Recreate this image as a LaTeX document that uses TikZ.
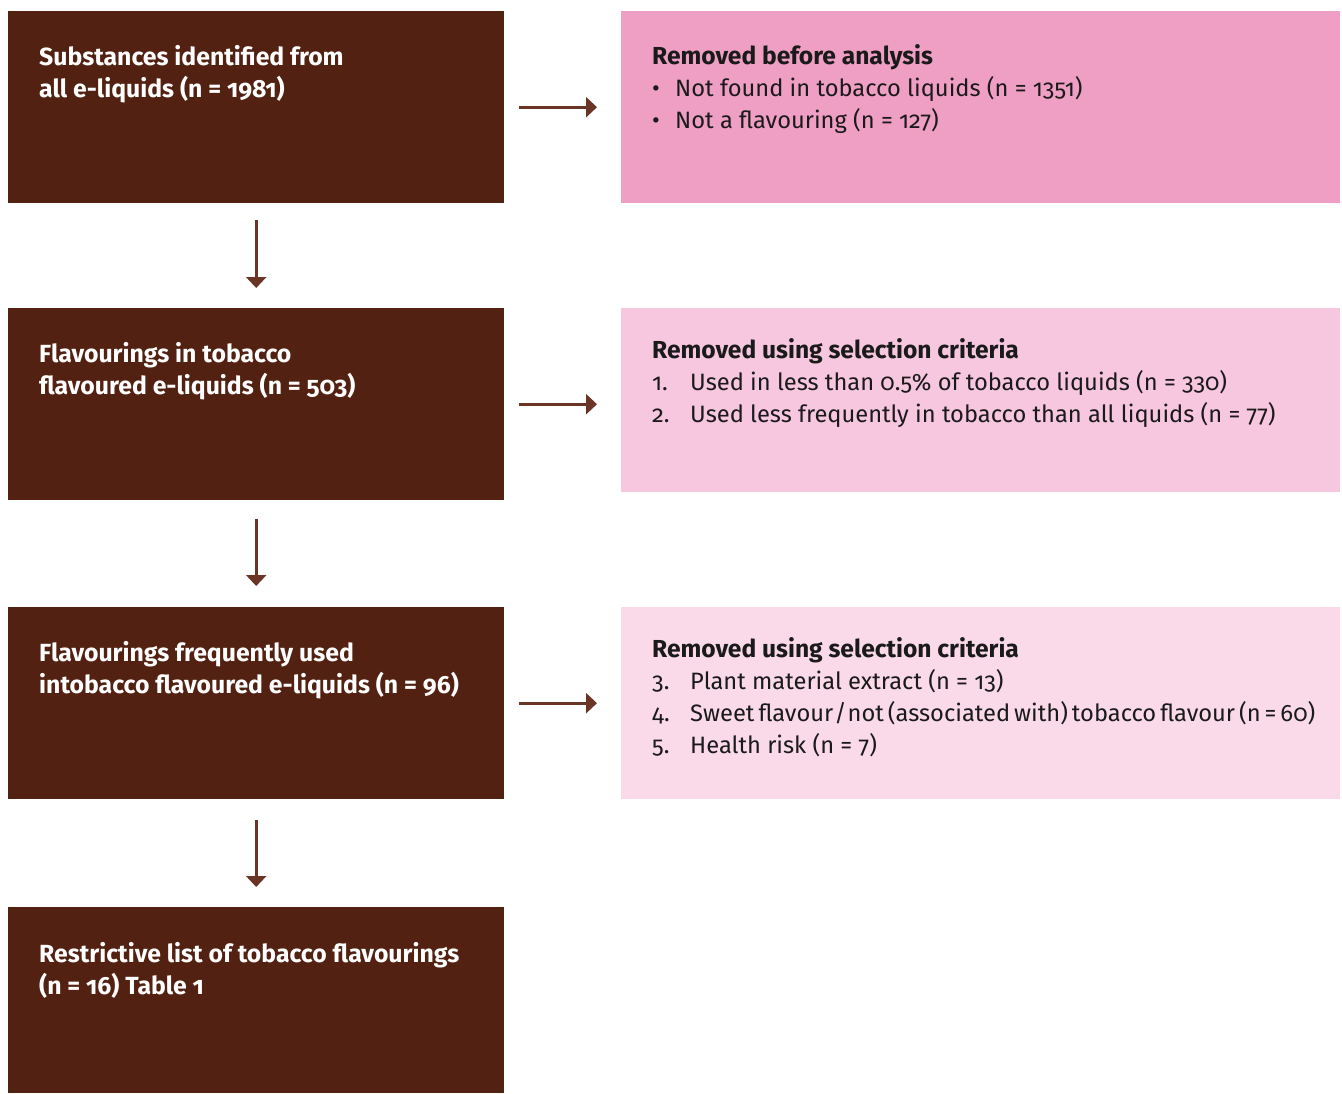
\documentclass[tikz,border=0pt]{standalone}
\usepackage{fontspec}
\setmainfont[Numbers=OldStyle]{Fira Sans}
\usetikzlibrary{arrows.meta}
\definecolor{brownbox}{HTML}{522111}
\definecolor{arrowcol}{HTML}{6B3526}
\definecolor{pinkA}{HTML}{F09FC4}
\definecolor{pinkB}{HTML}{F7C6DF}
\definecolor{pinkC}{HTML}{FADAE9}
\definecolor{textdark}{HTML}{1A1A1A}
\tikzset{
  bbox/.style={fill=brownbox, draw=none, inner sep=0pt, anchor=north west, minimum width=496pt, minimum height=192pt},
  pbox/.style={draw=none, inner sep=0pt, anchor=north west, minimum width=719pt},
  btext/.style={anchor=base west, inner sep=0pt, text=white, font=\fontsize{24.8}{32}\selectfont\bfseries},
  ptext/.style={anchor=base west, inner sep=0pt, text=textdark, font=\fontsize{23.7}{32}\selectfont},
  flow/.style={draw=arrowcol, line width=2.6pt, -{Triangle[length=11pt,width=20pt]}},
}
\newcommand{\bul}{\makebox[23pt][l]{\textbullet}}
\newcommand{\num}[1]{\makebox[38pt][l]{#1}}
\newcommand{\ptitle}[1]{{\fontsize{24.6}{32}\selectfont\bfseries #1}}
\begin{document}
\begin{tikzpicture}[x=1pt,y=-1pt]
\useasboundingbox (0,0) rectangle (1342,1093);
% brown boxes
\node[bbox] (b1) at (8,11) {};
\node[bbox] (b2) at (8,308) {};
\node[bbox] (b3) at (8,607) {};
\node[bbox, minimum height=186pt] (b4) at (8,907) {};
% pink boxes
\node[pbox, fill=pinkA, minimum height=192pt] (p1) at (621,11) {};
\node[pbox, fill=pinkB, minimum height=184pt] (p2) at (621,308) {};
\node[pbox, fill=pinkC, minimum height=192pt] (p3) at (621,607) {};
% brown texts
\node[btext] (t1) at (39,65) {\begin{tabular}[t]{@{}l@{}}Substances identified from\\ all e-liquids (n = 1981)\end{tabular}};
\node[btext] (t2) at (39,362) {\begin{tabular}[t]{@{}l@{}}Flavourings in tobacco\\ flavoured e-liquids (n = 503)\end{tabular}};
\node[btext] (t3) at (39,661) {\begin{tabular}[t]{@{}l@{}}Flavourings frequently used\\ intobacco flavoured e-liquids (n = 96)\end{tabular}};
\node[btext] (t4) at (39,962) {\begin{tabular}[t]{@{}l@{}}Restrictive list of tobacco flavourings\\ (n = 16) Table 1\end{tabular}};
% pink texts
\node[ptext] (q1) at (652,64) {\begin{tabular}[t]{@{}l@{}}\ptitle{Removed before analysis}\\ \bul Not found in tobacco liquids (n = 1351)\\ \bul Not a flavouring (n = 127)\end{tabular}};
\node[ptext] (q2) at (652,358) {\begin{tabular}[t]{@{}l@{}}\ptitle{Removed using selection criteria}\\ \num{1.}Used in less than 0.5\% of tobacco liquids (n = 330)\\ \num{2.}Used less frequently in tobacco than all liquids (n = 77)\end{tabular}};
\node[ptext] (q3) at (652,657) {\begin{tabular}[t]{@{}l@{}}\ptitle{Removed using selection criteria}\\ \num{3.}Plant material extract (n = 13)\\ \num{4.}{\spaceskip=4pt Sweet flavour\kern-3pt{} / \kern-3pt{}not (associated with) tobacco flavour (n = 60)}\\ \num{5.}Health risk (n = 7)\end{tabular}};
% arrows
\draw[flow, shorten <=15pt, shorten >=24pt] (b1.east) -- (p1.west |- b1.east);
\draw[flow, shorten <=15pt, shorten >=24pt] (b2.east) -- (p2.west |- b2.east);
\draw[flow, shorten <=15pt, shorten >=24pt] (b3.east) -- (p3.west |- b3.east);
\draw[flow, shorten <=17pt, shorten >=20pt] (b1.south) -- (b2.north);
\draw[flow, shorten <=19pt, shorten >=21pt] (b2.south) -- (b3.north);
\draw[flow, shorten <=21pt, shorten >=20pt] (b3.south) -- (b4.north);
\end{tikzpicture}
\end{document}
